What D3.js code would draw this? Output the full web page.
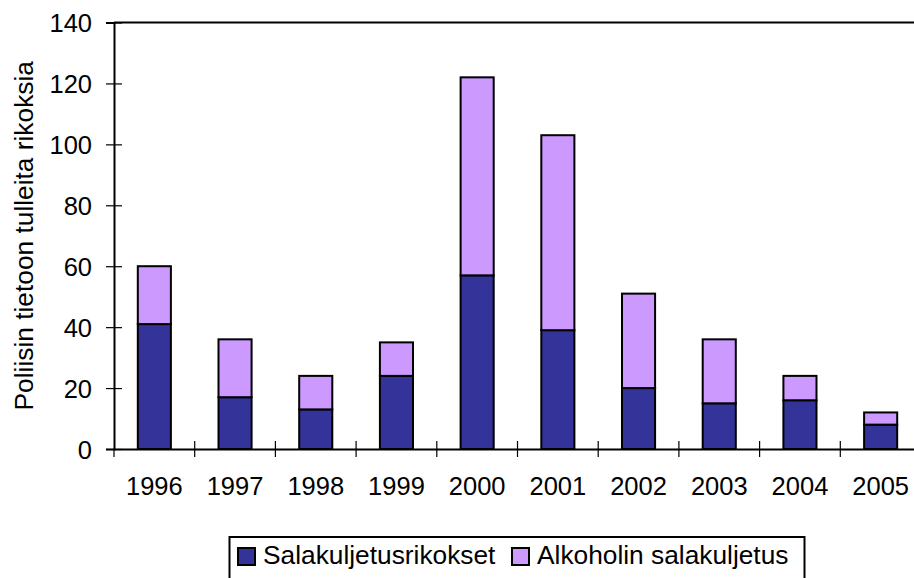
<!DOCTYPE html>
<html>
<head>
<meta charset="utf-8">
<script src="https://cdn.jsdelivr.net/npm/d3@7"></script>
<style>
  body { margin: 0; background: #fff; }
  text { font-family: "Liberation Sans", Arial, sans-serif; fill: #000; }
</style>
</head>
<body>
<div id="chart"></div>
<script>
var years = ["1996", "1997", "1998", "1999", "2000", "2001", "2002", "2003", "2004", "2005"];
var salakuljetus = [41, 17, 13, 24, 57, 39, 20, 15, 16, 8];
var alkoholi = [19, 19, 11, 11, 65, 64, 31, 21, 8, 4];
var yTicks = [0, 20, 40, 60, 80, 100, 120, 140];
var seriesNames = ["Salakuljetusrikokset", "Alkoholin salakuljetus"];

var width = 914,
  height = 578,
  plotLeft = 114,
  plotTop = 22.5,
  plotBottom = 449,
  plotRight = 921;

var colors = ["#333399", "#cc99ff"];

var svg = d3.select("#chart")
  .append("svg")
  .attr("width", width)
  .attr("height", height);

var x = d3.scaleBand()
  .domain(years)
  .range([plotLeft, plotRight])
  .paddingInner(0.59)
  .paddingOuter(0.295);

var y = d3.scaleLinear()
  .domain([0, 140])
  .range([plotBottom, plotTop]);

// stack the two series
var rows = years.map(function(d, i) {
  return { year: d, s0: salakuljetus[i], s1: alkoholi[i] };
});
var stack = d3.stack().keys(["s0", "s1"]);
var layers = stack(rows);

var g = svg.selectAll(".layer")
  .data(layers)
  .enter()
  .append("g")
  .attr("class", "layer")
  .style("fill", function(d, i) { return colors[i]; });

g.selectAll("rect")
  .data(function(d) { return d; })
  .enter()
  .append("rect")
  .attr("x", function(d) { return x(d.data.year); })
  .attr("y", function(d) { return y(d[1]); })
  .attr("width", x.bandwidth())
  .attr("height", function(d) { return y(d[0]) - y(d[1]); })
  .style("stroke", "#000")
  .style("stroke-width", 2);

// plot top border
svg.append("line")
  .attr("x1", plotLeft).attr("x2", plotRight)
  .attr("y1", y(140)).attr("y2", y(140))
  .style("stroke", "#000")
  .style("stroke-width", 2);

// y axis
var yAxis = svg.append("g")
  .attr("transform", "translate(" + plotLeft + ",0)")
  .call(d3.axisLeft(y).tickValues(yTicks).tickSize(8).tickPadding(14));
yAxis.select(".domain").style("stroke-width", 2);
yAxis.selectAll(".tick line").attr("x1", 8).style("stroke-width", 1.2);
yAxis.selectAll(".tick text")
  .style("font-size", "25.5px")
  .attr("dy", "0.36em");

// x axis
var xAxis = svg.append("g")
  .attr("transform", "translate(0," + plotBottom + ")")
  .call(d3.axisBottom(x).tickSize(0).tickPadding(28).tickSizeOuter(0));
xAxis.select(".domain").style("stroke-width", 2);
xAxis.selectAll(".tick text").style("font-size", "25.5px");

// tick marks between categories
var gap = (x.step() - x.bandwidth()) / 2;
svg.selectAll(".xtick")
  .data(years)
  .enter()
  .append("line")
  .attr("class", "xtick")
  .attr("x1", function(d) { return x(d) - gap; })
  .attr("x2", function(d) { return x(d) - gap; })
  .attr("y1", function(d, i) { return i == 0 ? plotBottom : plotBottom - 8; })
  .attr("y2", plotBottom + 8)
  .style("stroke", "#000")
  .style("stroke-width", 1.2);

// y axis title
svg.append("text")
  .attr("transform", "translate(33," + (plotTop + plotBottom) / 2 + ") rotate(-90)")
  .attr("text-anchor", "middle")
  .style("font-size", "26.3px")
  .text("Poliisin tietoon tulleita rikoksia");

// legend
var legend = svg.append("g");
legend.append("rect")
  .attr("x", 229.5)
  .attr("y", 537)
  .attr("width", 575)
  .attr("height", 50)
  .style("fill", "#fff")
  .style("stroke", "#000")
  .style("stroke-width", 2);

var legendX = [238, 512];
var item = legend.selectAll(".item")
  .data(seriesNames)
  .enter()
  .append("g")
  .attr("class", "item")
  .attr("transform", function(d, i) { return "translate(" + legendX[i] + ",548)"; });

item.append("rect")
  .attr("width", 17)
  .attr("height", 17)
  .style("fill", function(d, i) { return colors[i]; })
  .style("stroke", "#000")
  .style("stroke-width", 2);

item.append("text")
  .attr("x", 25)
  .attr("y", 16)
  .style("font-size", "26.3px")
  .text(function(d) { return d; });
</script>
</body>
</html>
